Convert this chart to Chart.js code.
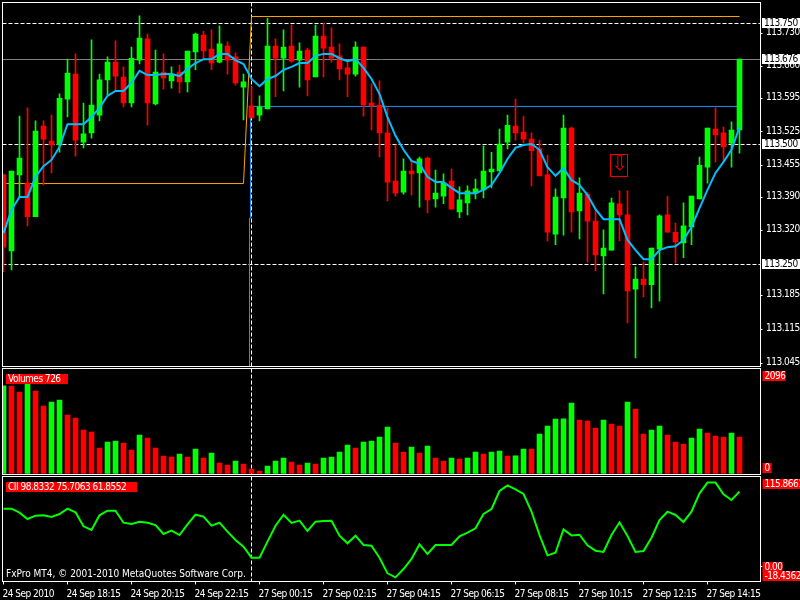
<!DOCTYPE html>
<html>
<head>
<meta charset="utf-8">
<title>USDJPY M15</title>
<script src="https://cdn.jsdelivr.net/npm/chart.js@4"></script>
<style>
  html, body { margin: 0; background: #000; width: 800px; height: 600px; overflow: hidden; }
  canvas { position: absolute; left: 0; }
  #priceChart { top: 0; }
  #volumeChart { top: 368px; }
  #ciiChart { top: 476px; }
</style>
</head>
<body>
<canvas id="priceChart" width="800" height="368"></canvas>
<canvas id="volumeChart" width="800" height="108"></canvas>
<canvas id="ciiChart" width="800" height="124"></canvas>
<script>
// candles, one every 15 minutes
const opens = [113.436,113.278,113.436,113.419,113.349,113.537,113.506,113.498,113.593,113.645,
  113.504,113.523,113.560,113.633,113.670,113.639,113.585,113.674,113.718,113.583,
  113.649,113.631,113.649,113.629,113.691,113.726,113.697,113.670,113.703,113.681,
  113.618,113.579,113.560,113.573,113.703,113.678,113.703,113.674,113.695,113.639,
  113.724,113.701,113.683,113.658,113.645,113.701,113.585,113.581,113.523,113.423,
  113.400,113.444,113.440,113.471,113.386,113.392,113.423,113.359,113.378,113.398,
  113.405,113.442,113.444,113.504,113.537,113.525,113.510,113.490,113.436,113.313,
  113.388,113.533,113.361,113.396,113.340,113.268,113.280,113.376,113.353,113.199,
  113.220,113.208,113.282,113.353,113.317,113.295,113.328,113.386,113.452,113.531,
  113.523,113.502,113.529];
const closes = [113.286,113.444,113.471,113.349,113.527,113.510,113.498,113.595,113.647,113.508,
  113.521,113.581,113.633,113.670,113.641,113.585,113.678,113.720,113.585,113.649,
  113.637,113.645,113.629,113.693,113.728,113.693,113.668,113.708,113.674,113.627,
  113.629,113.554,113.577,113.703,113.678,113.701,113.672,113.693,113.633,113.724,
  113.699,113.678,113.656,113.645,113.701,113.581,113.579,113.523,113.421,113.398,
  113.444,113.438,113.469,113.384,113.398,113.419,113.365,113.384,113.403,113.407,
  113.444,113.448,113.500,113.539,113.523,113.510,113.486,113.434,113.317,113.390,
  113.533,113.359,113.398,113.340,113.270,113.284,113.378,113.353,113.195,113.220,
  113.208,113.284,113.351,113.317,113.297,113.330,113.392,113.456,113.533,113.519,
  113.494,113.529,113.676];
const highs = [113.438,113.444,113.558,113.575,113.548,113.548,113.560,113.604,113.676,113.687,
  113.585,113.716,113.645,113.681,113.714,113.660,113.701,113.766,113.728,113.695,
  113.687,113.660,113.664,113.693,113.730,113.734,113.737,113.745,113.712,113.689,
  113.645,113.618,113.600,113.761,113.718,113.737,113.747,113.710,113.699,113.747,
  113.751,113.741,113.708,113.670,113.712,113.701,113.625,113.631,113.575,113.498,
  113.469,113.465,113.473,113.473,113.446,113.438,113.448,113.411,113.413,113.427,
  113.496,113.483,113.531,113.560,113.593,113.558,113.523,113.508,113.477,113.407,
  113.560,113.535,113.430,113.400,113.363,113.322,113.388,113.403,113.403,113.245,
  113.255,113.284,113.353,113.392,113.336,113.378,113.392,113.473,113.533,113.575,
  113.535,113.546,113.676];
const lows = [113.235,113.239,113.390,113.330,113.349,113.415,113.440,113.483,113.556,113.475,
  113.492,113.512,113.548,113.602,113.612,113.577,113.577,113.666,113.539,113.581,
  113.614,113.616,113.606,113.608,113.654,113.676,113.654,113.668,113.645,113.622,
  113.550,113.554,113.548,113.573,113.598,113.610,113.670,113.618,113.600,113.639,
  113.639,113.670,113.633,113.598,113.641,113.558,113.529,113.473,113.382,113.392,
  113.396,113.394,113.369,113.357,113.369,113.376,113.365,113.347,113.353,113.386,
  113.388,113.409,113.444,113.490,113.508,113.502,113.413,113.434,113.299,113.291,
  113.311,113.317,113.303,113.255,113.237,113.189,113.280,113.299,113.129,113.056,
  113.183,113.160,113.174,113.317,113.253,113.264,113.291,113.386,113.419,113.463,
  113.465,113.452,113.481];
const movingAverage = [113.315,113.363,113.390,113.390,113.432,113.454,113.467,113.494,113.541,113.541,
  113.541,113.556,113.575,113.600,113.610,113.610,113.627,113.652,113.643,113.643,
  113.645,113.645,113.641,113.656,113.668,113.676,113.676,113.687,113.687,113.674,
  113.666,113.635,113.620,113.635,113.641,113.654,113.660,113.668,113.668,113.683,
  113.687,113.687,113.678,113.672,113.676,113.658,113.635,113.604,113.556,113.517,
  113.488,113.465,113.459,113.432,113.421,113.421,113.409,113.398,113.398,113.398,
  113.405,113.415,113.440,113.469,113.492,113.498,113.500,113.488,113.452,113.434,
  113.450,113.425,113.415,113.394,113.365,113.344,113.344,113.344,113.301,113.280,
  113.261,113.261,113.280,113.286,113.288,113.301,113.328,113.367,113.405,113.440,
  113.463,113.488,113.535];
const volumes = [1750,1745,1627,1787,1647,1348,1427,1467,1168,1108,
  869,829,509,629,649,609,469,769,709,509,
  350,330,390,330,489,310,410,210,170,250,
  190,90,50,150,250,310,230,170,210,190,
  310,330,430,569,509,629,649,729,929,609,
  430,529,410,549,310,250,310,290,310,430,
  390,430,450,350,352,489,487,789,949,1088,
  1090,1408,1068,1048,909,1068,988,949,1427,1288,
  789,869,949,769,629,589,709,889,809,749,
  729,809,726];
const cii = [79.7,79.7,74.2,65.5,70.1,70.5,68.2,72.3,79.7,74.6,
  55.4,50.4,70.5,76.9,76.9,60.4,58.6,61.8,60.4,57.2,
  44.9,49.5,43.5,58.2,71.4,68.7,56.3,60.4,48.1,36.6,
  27.5,12.4,12.4,34.4,56.3,71.4,60.0,63.2,49.0,61.8,
  62.7,63.2,42.6,32.1,42.6,29.8,28.9,12.4,-9.1,-14.6,
  -3.2,10.6,30.7,17.4,29.8,29.8,29.8,41.7,46.7,52.7,
  72.3,79.2,103.9,111.7,106.2,99.8,75.5,43.5,15.6,19.2,
  51.3,43.0,43.9,29.3,22.0,20.2,43.5,60.9,42.1,20.2,
  21.5,39.8,64.1,75.5,71.0,61.4,75.5,100.7,115.4,115.4,
  99.3,91.6,103.0];

// orange and blue trend objects (bar index, price)
const orangeBars = [0, 30, 31, 92];
const orangePrices = [113.418, 113.418, 113.7645, 113.7645];
const blueBars = [30.75, 30.75, 30.875, 30.875, 92];
const bluePrices = [113.03, 113.346, 113.346, 113.578, 113.578];

// axes and levels
const priceTicks = [113.73, 113.66, 113.595, 113.525, 113.455, 113.39, 113.32, 113.185, 113.115, 113.045];
const dashedLevels = [113.75, 113.5, 113.25];
const greyLevel = 113.676;
const priceBadges = [113.75, 113.676, 113.5, 113.25];
const timeBars = [0, 8, 16, 24, 32, 40, 48, 56, 64, 72, 80, 88];
const timeLabels = ['24 Sep 2010', '24 Sep 18:15', '24 Sep 20:15', '24 Sep 22:15', '27 Sep 00:15', '27 Sep 02:15',
  '27 Sep 04:15', '27 Sep 06:15', '27 Sep 08:15', '27 Sep 10:15', '27 Sep 12:15', '27 Sep 14:15'];
const cursorBar = 31;
const signalBar = 77;
const signalPrice = 113.454;

const RED = '#ff0000';
const GREEN = '#00ff00';
const FONT = { family: "'DejaVu Sans Condensed','DejaVu Sans',sans-serif", size: 10 };
const FONT_CSS = FONT.size + 'px ' + FONT.family;
const X_MIN = -0.125;
const X_MAX = 94.625;

// the terminal font is narrower than anything installed
Chart.register({
    id: 'tightText',
    beforeDraw(chart) {
        chart.ctx.letterSpacing = '-0.5px';
    }
});

function drawBadge(ctx, text, x, y, w, bg, fg) {
    ctx.save();
    ctx.font = FONT_CSS;
    ctx.fillStyle = bg;
    ctx.fillRect(x, Math.round(y) - 5, w, 10);
    ctx.fillStyle = fg;
    ctx.textBaseline = 'middle';
    ctx.textAlign = 'left';
    ctx.fillText(text, x + 2, Math.round(y));
    ctx.restore();
}

function drawFrame(chart) {
    const { ctx, chartArea: a } = chart;
    ctx.save();
    ctx.strokeStyle = '#ffffff';
    ctx.lineWidth = 1;
    ctx.strokeRect(a.left, a.top, a.right - a.left, a.bottom - a.top);
    ctx.restore();
}

// white dashed cursor through every window
function drawCursor(chart) {
    const { ctx, chartArea: a, scales } = chart;
    const px = Math.floor(scales.x.getPixelForValue(cursorBar)) + 0.5;
    ctx.save();
    ctx.strokeStyle = '#ffffff';
    ctx.lineWidth = 1;
    ctx.setLineDash([4, 2]);
    ctx.beginPath();
    ctx.moveTo(px, a.top);
    ctx.lineTo(px, a.bottom);
    ctx.stroke();
    ctx.restore();
}

const framePlugin = { id: 'frame', afterDraw: drawFrame };
const cursorPlugin = { id: 'cursor', beforeDatasetsDraw: drawCursor };

const priceObjects = {
    id: 'priceObjects',
    beforeDatasetsDraw(chart) {
        const { ctx, chartArea: a, scales } = chart;
        ctx.save();
        ctx.lineWidth = 1;
        const row = v => Math.floor(scales.y.getPixelForValue(v)) + 0.5;
        ctx.strokeStyle = '#808080';
        ctx.beginPath();
        ctx.moveTo(a.left, row(greyLevel));
        ctx.lineTo(a.right, row(greyLevel));
        ctx.stroke();
        ctx.strokeStyle = '#ffffff';
        ctx.setLineDash([4, 2]);
        dashedLevels.forEach(v => {
            ctx.beginPath();
            ctx.moveTo(a.left, row(v));
            ctx.lineTo(a.right, row(v));
            ctx.stroke();
        });
        ctx.restore();
    },
    afterDraw(chart) {
        const { ctx, chartArea: a, scales } = chart;
        priceBadges.forEach(v => {
            drawBadge(ctx, v.toFixed(3), a.right + 1.5, Math.floor(scales.y.getPixelForValue(v)), 38, '#ffffff', '#000000');
        });
        // sell signal box
        const sx = scales.x.getPixelForValue(signalBar);
        const sy = Math.round(scales.y.getPixelForValue(signalPrice));
        ctx.save();
        ctx.strokeStyle = '#ee0000';
        ctx.strokeRect(Math.floor(sx) - 8.5, sy - 11.5, 17, 22);
        ctx.fillStyle = '#ee0000';
        ctx.font = "20px 'DejaVu Sans'";
        ctx.textAlign = 'center';
        ctx.textBaseline = 'middle';
        ctx.fillText('\u21E9', sx, sy - 1);
        ctx.restore();
    }
};

const volumeLabels = {
    id: 'volumeLabels',
    afterDraw(chart) {
        const { ctx, chartArea: a } = chart;
        drawBadge(ctx, 'Volumes 726', 6, a.top + 10, 62, RED, '#ffffff');
        drawBadge(ctx, '2096', a.right + 2, a.top + 7, 23, RED, '#ffffff');
        drawBadge(ctx, '0', a.right + 2, a.bottom - 7, 9, RED, '#ffffff');
    }
};

const ciiLabels = {
    id: 'ciiLabels',
    afterDraw(chart) {
        const { ctx, chartArea: a, scales } = chart;
        drawBadge(ctx, 'CII 98.8332 75.7063 61.8552', 6, a.top + 10.5, 131, RED, '#ffffff');
        drawBadge(ctx, '115.8661', a.right + 2, a.top + 7, 38, RED, '#ffffff');
        drawBadge(ctx, '0.00', a.right + 2, scales.y.getPixelForValue(0), 20, RED, '#ffffff');
        drawBadge(ctx, '-18.4362', a.right + 2, a.bottom - 6, 38, RED, '#ffffff');
        ctx.save();
        ctx.font = FONT_CSS;
        ctx.letterSpacing = '0px';
        ctx.fillStyle = '#ffffff';
        ctx.textBaseline = 'middle';
        ctx.fillText('FxPro MT4, \u00A9 2001-2010 MetaQuotes Software Corp.', 6, a.bottom - 7);
        ctx.restore();
    }
};

function hiddenX() {
    return { type: 'linear', display: false, offset: false, min: X_MIN, max: X_MAX };
}

function rightAxis(min, max, tickValues) {
    return {
        type: 'linear',
        position: 'right',
        min: min,
        max: max,
        afterFit: s => {
            s.width = 39.5;
            s.paddingTop = 0;
            s.paddingBottom = 0;
        },
        afterBuildTicks: s => { s.ticks = tickValues.map(v => ({ value: v })); },
        border: { color: '#ffffff' },
        grid: { drawOnChartArea: false, tickLength: 2, color: '#ffffff' },
        ticks: {
            autoSkip: false,
            color: '#ffffff',
            font: FONT,
            padding: 3.5,
            labelOffset: -1,
            callback: v => v.toFixed(3)
        }
    };
}

function baseOptions(padding, scales) {
    return {
        responsive: false,
        animation: false,
        devicePixelRatio: 1,
        events: [],
        layout: { padding: padding },
        plugins: { legend: { display: false }, tooltip: { enabled: false } },
        scales: scales
    };
}

function lineSet(xs, ys, color, width, order) {
    return {
        type: 'line',
        data: xs.map((x, i) => ({ x: x, y: ys[i] })),
        borderColor: color,
        borderWidth: width,
        pointRadius: 0,
        tension: 0,
        order: order
    };
}

const barIndex = opens.map((_, i) => i);
const candleColors = opens.map((o, i) => closes[i] < o ? RED : GREEN);
const volumeColors = volumes.map((v, i) => i === 0 || v > volumes[i - 1] ? GREEN : RED);

new Chart(document.getElementById('priceChart'), {
    type: 'bar',
    data: {
        datasets: [
            lineSet(barIndex, movingAverage, '#00bfff', 2, 1),
            {
                data: barIndex.map(i => ({ x: i, y: [opens[i], closes[i]] })),
                backgroundColor: candleColors,
                barThickness: 5,
                grouped: false,
                order: 2
            },
            {
                data: barIndex.map(i => ({ x: i, y: [lows[i], highs[i]] })),
                backgroundColor: candleColors,
                barThickness: 1,
                grouped: false,
                order: 3
            },
            lineSet(orangeBars, orangePrices, '#ffa500', 1, 4),
            lineSet(blueBars, bluePrices, '#1e90ff', 1, 5)
        ]
    },
    options: baseOptions({ left: 2.5, top: 2.5, right: 0, bottom: 1.5 }, {
        x: hiddenX(),
        y: rightAxis(113.0384, 113.7936, priceTicks)
    }),
    plugins: [priceObjects, cursorPlugin, framePlugin]
});

const volumeAxis = rightAxis(-20, 2096, []);
new Chart(document.getElementById('volumeChart'), {
    type: 'bar',
    data: {
        datasets: [{
            data: barIndex.map(i => ({ x: i, y: volumes[i] })),
            backgroundColor: volumeColors,
            barThickness: 5,
            grouped: false
        }]
    },
    options: baseOptions({ left: 2.5, top: 0.5, right: 0, bottom: 1.5 }, {
        x: hiddenX(),
        y: volumeAxis
    }),
    plugins: [cursorPlugin, volumeLabels, framePlugin]
});

const ciiAxis = rightAxis(-20.3, 123.8, [0]);
ciiAxis.ticks.display = false;
new Chart(document.getElementById('ciiChart'), {
    type: 'line',
    data: {
        datasets: [lineSet(barIndex, cii, GREEN, 2, 1)]
    },
    options: baseOptions({ left: 2.5, top: 0.5, right: 0, bottom: 0 }, {
        x: {
            type: 'linear',
            offset: false,
            min: X_MIN,
            max: X_MAX,
            afterFit: s => {
                s.height = 18.5;
                s.paddingLeft = 0;
                s.paddingRight = 0;
            },
            afterBuildTicks: s => { s.ticks = timeBars.map(v => ({ value: v })); },
            border: { color: '#ffffff' },
            grid: { drawOnChartArea: false, tickLength: 3, color: '#ffffff' },
            ticks: {
                autoSkip: false,
                maxRotation: 0,
                minRotation: 0,
                align: 'start',
                labelOffset: -1,
                padding: 3.5,
                color: '#ffffff',
                font: FONT,
                callback: v => timeLabels[timeBars.indexOf(v)]
            }
        },
        y: ciiAxis
    }),
    plugins: [cursorPlugin, ciiLabels, framePlugin]
});
</script>
</body>
</html>
